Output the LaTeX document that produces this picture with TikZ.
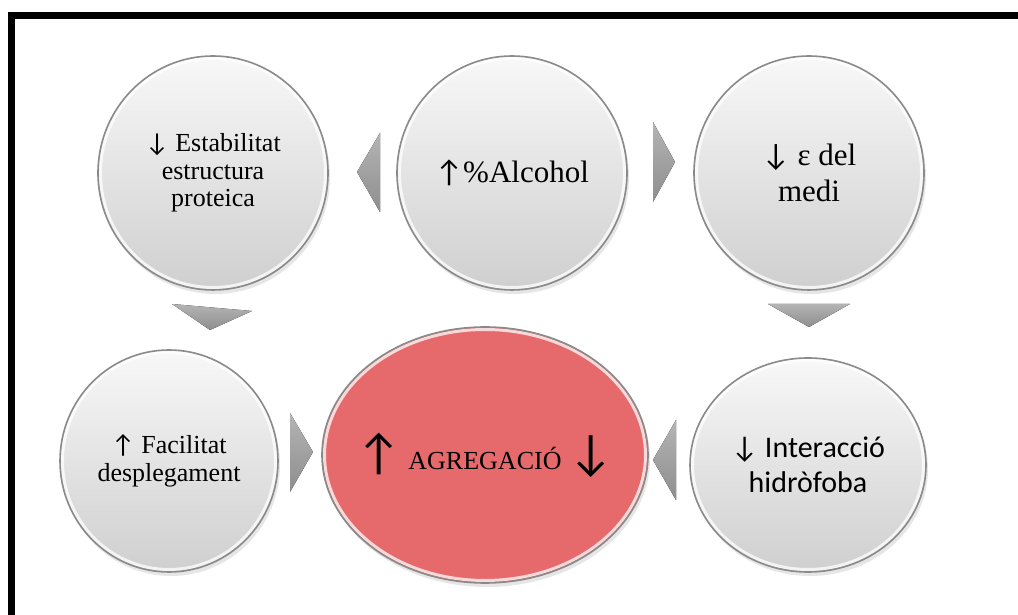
\documentclass[tikz,border=0pt]{standalone}
\usepackage{fontspec}
\setmainfont{Liberation Serif}
\newfontfamily\calib{Carlito}
\usetikzlibrary{shapes.geometric,shadows,calc}
\definecolor{cRing}{HTML}{8A8A8A}
\definecolor{cTop}{HTML}{F8F8F8}
\definecolor{cBot}{HTML}{CFCFCF}
\definecolor{cAgr}{HTML}{E66A6C}
\definecolor{cTriL}{HTML}{B4B4B4}
\definecolor{cTriD}{HTML}{8E8E8E}
% fletxes primes i altes, com a l'original
\newcommand\up{{\calib ↑}}
\newcommand\dn{{\calib ↓}}

\begin{document}
\begin{tikzpicture}[
  x=1pt, y=1pt,
  % ── bombolles grises, la central en vermell ──
  bub/.style={ellipse, draw=cRing, line width=1.6pt, top color=cTop,
              bottom color=cBot, align=center, inner sep=0pt,
              drop shadow={shadow xshift=2pt, shadow yshift=-4pt,
                           opacity=0.2, fill=gray},
              path picture={\draw[white, line width=3pt, opacity=0.75]
                let \p1=($(path picture bounding box.north east)
                          -(path picture bounding box.center)$)
                in (path picture bounding box.center)
                   ellipse [x radius=\x1-2.5pt, y radius=\y1-2.5pt];}},
  agg/.style={bub, top color=cAgr, bottom color=cAgr, inner sep=-40pt},
  tri/.style={top color=cTriL, bottom color=cTriD, draw=none},
  frm/.style={line width=7pt, line join=miter},
  sm/.style={font={\fontsize{26pt}{27.5pt}\selectfont}},
  lg/.style={font={\fontsize{31pt}{36pt}\selectfont}},
]
\useasboundingbox (0,0) rectangle (1018,615);
% ═══ graella: columnes i files en px de la imatge ═══
\def\cA{213}  \def\cB{512}  \def\cC{809}
\def\rT{442}  \def\rB{154}

% ── marc ─────────────────────────────────────────────────
\draw[frm] (1030,599.5) -- (11.5,599.5) -- (11.5,-20);

% ── triangles (fletxes del cicle) ───────────────────────
\fill[tri] (380,482) -- (380,403) -- (357,443) -- cycle;
\fill[tri] (653,493) -- (653,413) -- (675,453) -- cycle;
\fill[tri] (768,311) -- (850,311) -- (809,288) -- cycle;
\fill[tri] (172,311) -- (252,304) -- (210,285) -- cycle;
\fill[tri] (290,202) -- (290,123) -- (313,163) -- cycle;
\fill[tri] (676,195) -- (676,115) -- (653,155) -- cycle;

% ── fila de dalt ─────────────────────────────────────────
\node[bub, sm, minimum width=230pt, minimum height=234pt] (est) at (\cA,\rT)
  {\dn\ Estabilitat\\ estructura\\ proteica};
\node[bub, lg, minimum width=230pt, minimum height=234pt] (alc) at (\cB,\rT)
  {\up\%Alcohol};
\node[bub, lg, minimum width=230pt, minimum height=234pt] (eps) at (\cC,\rT)
  {\dn\ ε del\\ medi};

% ── fila de baix ─────────────────────────────────────────
\node[bub, sm, minimum width=218pt, minimum height=222pt] (fac) at (169,\rB)
  {\up\ Facilitat\\ desplegament};
\node[agg, minimum width=326pt, minimum height=256pt] (agr) at (485,160)
  {{\calib\fontsize{50pt}{50pt}\selectfont ↑}\hspace{7pt}%
   {\fontsize{26pt}{30pt}\selectfont AGREGACIÓ}\hspace{7pt}%
   {\calib\fontsize{50pt}{50pt}\selectfont ↓}};
\node[bub, minimum width=236pt, minimum height=214pt,
      font={\calib\fontsize{30pt}{35pt}\selectfont}] (int) at (808,150)
  {↓ Interacció\\ hidròfoba};
\end{tikzpicture}
\end{document}
